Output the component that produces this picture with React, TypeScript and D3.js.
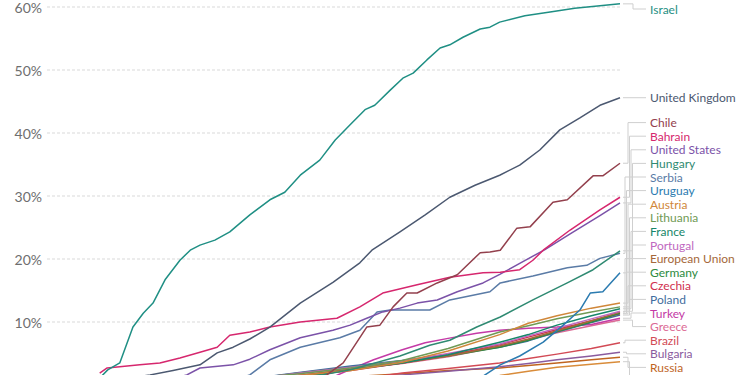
import React from 'react';
import * as d3 from 'd3';

// y-axis tick values (percent)
const yTicks: number[] = [10, 20, 30, 40, 50, 60];

// country names, in drawing order
const countries: string[] = [
  'Israel', 'United Kingdom', 'Chile', 'Bahrain', 'United States', 'Hungary', 'Serbia',
  'Uruguay', 'Austria', 'Lithuania', 'France', 'Portugal', 'European Union', 'Germany',
  'Czechia', 'Poland', 'Turkey', 'Greece', 'Brazil', 'Bulgaria', 'Russia', 'Mexico',
];

const colors: string[] = [
  '#1f8f84', '#4b5870', '#93404d', '#d6276e', '#7b52a8', '#2f8a72', '#5a7ba6',
  '#2b7bb0', '#d0873a', '#6f9a55', '#16866a', '#c068c0', '#a5683a', '#2e8b40',
  '#d0304e', '#3f6d9e', '#c43aa6', '#dc6a94', '#d24a55', '#8a5b9e', '#c0651f', '#d98c3a',
];

// [day index, share vaccinated %]
const israel: [number, number][] = [
  [8, 0], [9.2, 1.1], [10.6, 2.4], [12.7, 3.5], [15, 9.2], [16.8, 11.4], [18.5, 13.0], [20.6, 16.7],
  [23.2, 19.8], [25, 21.4], [26.7, 22.2], [29.3, 23.0], [31.9, 24.3], [35.4, 27.0], [38.9, 29.4],
  [41.5, 30.6], [44.2, 33.3], [47.6, 35.7], [50.3, 38.9], [52.9, 41.3], [55.5, 43.7], [57.2, 44.4],
  [59.9, 46.8], [62.1, 48.7], [63.9, 49.5], [66.3, 51.6], [68.6, 53.5], [70.3, 54.0], [72.6, 55.2],
  [75.6, 56.5], [77.3, 56.8], [79, 57.6], [83.4, 58.6], [87.8, 59.2], [92.1, 59.8], [96.5, 60.2], [100, 60.5],
];
const uk: [number, number][] = [
  [3, 0], [10, 0.5], [18, 1.6], [22, 2.3], [26.7, 3.2], [29.7, 5.1], [32.5, 6.0], [35.4, 7.3], [38.9, 9.2],
  [44.2, 13.0], [49.9, 16.3], [54.6, 19.4], [56.7, 21.4], [61.6, 24.3], [66, 27], [70.3, 29.8],
  [74.7, 31.7], [79, 33.3], [82.5, 34.9], [86, 37.3], [89.5, 40.5], [93, 42.4], [96.5, 44.4], [100, 45.6],
];
const chile: [number, number][] = [
  [40, 0.1], [47.6, 0.8], [51.7, 3.5], [55.8, 9.2], [58.1, 9.5], [60.4, 12.4], [62.8, 14.6], [64.6, 14.6],
  [68.1, 16.2], [71.6, 17.5], [75.6, 21.0], [77.3, 21.1], [79.1, 21.4], [82, 24.9], [84.3, 25.1],
  [88.3, 29.0], [90.8, 29.4], [95.3, 33.2], [97, 33.2], [100, 35.2],
];
const bahrain: [number, number][] = [
  [9.2, 1.9], [10.5, 2.7], [16.2, 3.2], [19.7, 3.5], [23.2, 4.3], [26.7, 5.2], [29.7, 6.0], [31.9, 7.9],
  [35.4, 8.4], [38.9, 9.2], [44.2, 10.0], [50.6, 10.6], [54.6, 12.4], [58.6, 14.6], [64.6, 15.9],
  [70.3, 17.1], [76.1, 17.8], [79.1, 17.9], [82.5, 18.3], [84.8, 19.8], [86.6, 21.4], [91.3, 24.6],
  [96.5, 27.8], [100, 29.8],
];
const usa: [number, number][] = [
  [18, 0], [24.4, 1.6], [26.7, 2.7], [32.5, 3.2], [35.4, 4.1], [38.9, 5.6], [44.2, 7.5], [49.9, 8.7],
  [52.9, 9.5], [55.8, 10.6], [58.6, 11.6], [61.6, 12.2], [64.6, 13.0], [68.1, 13.5], [71.6, 14.8],
  [76.1, 16.2], [79.1, 17.6], [82.5, 19.3], [86.9, 21.5], [91.3, 24.0], [96.5, 26.9], [100, 28.9],
];
const hungary: [number, number][] = [
  [27, 0.1], [35, 0.5], [44.2, 1.0], [52.9, 2.4], [61.6, 4.6], [66.8, 6.3], [70.3, 7.1], [75, 9.2],
  [79.1, 10.8], [84.8, 13.5], [90.8, 16.2], [95.3, 18.3], [100, 21.3],
];
const serbia: [number, number][] = [
  [28, 0], [32, 0.6], [35.4, 1.6], [38.9, 4.0], [44.2, 6.0], [51.1, 7.5], [54.6, 8.7], [57.6, 11.6],
  [59.9, 11.9], [63.4, 11.9], [66.8, 11.9], [70.3, 13.5], [77.3, 14.8], [79.1, 16.2], [84.8, 17.3],
  [90.8, 18.6], [94.2, 19.0], [96.5, 20.1], [100, 20.9],
];
const uruguay: [number, number][] = [
  [74, 0], [76.1, 1.4], [79.1, 3.2], [82.5, 4.6], [86.6, 6.8], [90.1, 9.5], [93, 11.9], [94.8, 14.6],
  [97, 14.8], [100, 17.8],
];
const austria: [number, number][] = [
  [22, 0], [27, 0.2], [35, 0.8], [44, 1.5], [53, 2.3], [62, 3.6], [70, 5.4], [79, 8.0], [84, 9.8],
  [89, 11.0], [95, 12.2], [100, 13.0],
];
const lithuania: [number, number][] = [
  [22, 0], [27, 0.3], [35, 1.0], [44, 1.8], [53, 2.7], [62, 3.9], [70, 5.8], [79, 8.4], [84, 9.4],
  [89, 10.5], [95, 11.6], [100, 12.4],
];
const france: [number, number][] = [
  [27, 0], [35, 0.3], [44, 1.2], [53, 2.4], [62, 3.5], [70, 4.8], [79, 6.8], [84, 8.0], [89, 9.5],
  [95, 11.0], [100, 12.1],
];
const portugal: [number, number][] = [
  [22, 0], [27, 0.2], [35, 0.9], [44, 1.9], [53, 2.8], [62, 3.8], [70, 5.0], [79, 6.5], [84, 7.8],
  [89, 9.0], [95, 10.5], [100, 11.7],
];
const eu: [number, number][] = [
  [22, 0], [27, 0.1], [35, 0.6], [44, 1.5], [53, 2.5], [62, 3.5], [70, 4.6], [79, 6.2], [84, 7.3],
  [89, 8.6], [95, 10.2], [100, 11.6],
];
const germany: [number, number][] = [
  [22, 0], [27, 0.2], [35, 0.9], [44, 1.9], [53, 2.8], [62, 3.6], [70, 4.6], [79, 6.0], [84, 7.1],
  [89, 8.5], [95, 10.0], [100, 11.4],
];
const czechia: [number, number][] = [
  [22, 0], [27, 0.1], [35, 0.6], [44, 1.4], [53, 2.3], [62, 3.5], [70, 4.7], [79, 6.4], [84, 7.6],
  [89, 8.8], [95, 10.2], [100, 11.3],
];
const poland: [number, number][] = [
  [22, 0], [27, 0.1], [35, 0.9], [44, 2.0], [53, 3.0], [62, 3.9], [70, 4.8], [79, 6.0], [84, 7.0],
  [89, 8.4], [95, 9.9], [100, 11.1],
];
const turkey: [number, number][] = [
  [44, 0], [48, 0.5], [53, 2.5], [57, 4.0], [62, 5.6], [66, 6.7], [70, 7.4], [75, 8.2], [79, 8.7],
  [84, 9.0], [89, 9.2], [95, 9.6], [100, 10.6],
];
const greece: [number, number][] = [
  [22, 0], [27, 0.2], [35, 0.8], [44, 1.6], [53, 2.5], [62, 3.4], [70, 4.5], [79, 6.1], [84, 7.2],
  [89, 8.3], [95, 9.4], [100, 10.3],
];
const brazil: [number, number][] = [
  [48, 0], [50, 0.2], [55, 1.0], [62, 1.9], [70, 2.6], [79, 3.5], [84, 4.2], [89, 4.9], [95, 5.8], [100, 6.7],
];
const bulgaria: [number, number][] = [
  [22, 0], [27, 0.1], [44, 0.5], [53, 1.0], [62, 1.6], [70, 2.2], [79, 2.9], [84, 3.4], [89, 4.0],
  [95, 4.6], [100, 5.2],
];
const russia: [number, number][] = [
  [10, 0], [27, 0.3], [44, 0.8], [53, 1.3], [62, 1.8], [70, 2.3], [79, 2.7], [84, 3.1], [89, 3.5],
  [95, 4.0], [100, 4.4],
];
const mexico: [number, number][] = [
  [22, 0], [35, 0.1], [53, 0.4], [62, 0.7], [70, 1.0], [79, 1.5], [84, 2.2], [89, 2.8], [95, 3.3], [100, 3.7],
];

const seriesValues = [
  israel, uk, chile, bahrain, usa, hungary, serbia, uruguay, austria, lithuania, france, portugal,
  eu, germany, czechia, poland, turkey, greece, brazil, bulgaria, russia, mexico,
];

const W = 750;
const H = 375;

export default function App() {
  const x = d3.scaleLinear().domain([0, 100]).range([47, 620]);
  const y = d3.scaleLinear().domain([0, 60]).range([385, 7]);
  const line = d3
    .line<[number, number]>()
    .x((d) => x(d[0]))
    .y((d) => y(d[1]));

  // label layout: sort by end position and avoid overlaps
  const gap = 13.6;
  const minY = 9;
  const maxY = 381;
  const ends = seriesValues.map((s, i) => ({ i, yEnd: y(s[s.length - 1][1]), yl: 0 }));
  const sorted = [...ends].sort((a, b) => a.yEnd - b.yEnd);
  sorted.forEach((e, k) => {
    const prev = k > 0 ? sorted[k - 1].yl + gap : minY;
    e.yl = Math.max(e.yEnd, prev, minY);
  });
  for (let k = sorted.length - 1; k >= 0; k--) {
    const next = k < sorted.length - 1 ? sorted[k + 1].yl - gap : maxY;
    sorted[k].yl = Math.min(sorted[k].yl, next);
  }

  const lineEndX = x(100);
  const labelX = 650;

  return (
    <div style={{ position: 'absolute', left: 0, top: 0, width: W, height: H, overflow: 'hidden', background: '#fff' }}>
      <svg width={W} height={H} style={{ display: 'block', fontFamily: 'Lato, "Open Sans", sans-serif' }}>
        {yTicks.map((t) => (
          <g key={t}>
            <line x1={x(0)} x2={x(100)} y1={y(t)} y2={y(t)} stroke="#d9d9d9" strokeWidth={1} strokeDasharray="3,2" />
            <text x={42} y={y(t)} textAnchor="end" dominantBaseline="central" fontSize={14} fill="#6e6e6e">
              {t}%
            </text>
          </g>
        ))}
        {sorted.map((e, k) => {
          const xs = Math.abs(e.yl - e.yEnd) < 0.5 ? 630 : e.i === 0 ? 633 : 625 + (k % 6) * 1.5;
          return (
            <path
              key={'c' + e.i}
              d={`M${lineEndX + 3},${e.yEnd}H${xs}V${e.yl}H${labelX - 4}`}
              fill="none"
              stroke="#cfcfcf"
              strokeWidth={1}
            />
          );
        })}
        {seriesValues
          .map((s, i) => ({ s, i }))
          .reverse()
          .map(({ s, i }) => (
            <path key={'l' + i} d={line(s) || ''} fill="none" stroke={colors[i]} strokeWidth={1.5} strokeLinejoin="round" />
          ))}
        {sorted
          .filter((e) => e.yl < H - 6)
          .map((e) => (
            <text key={'t' + e.i} x={labelX} y={e.yl} dominantBaseline="central" fontSize={12} fill={colors[e.i]}>
              {countries[e.i]}
            </text>
          ))}
      </svg>
    </div>
  );
}
